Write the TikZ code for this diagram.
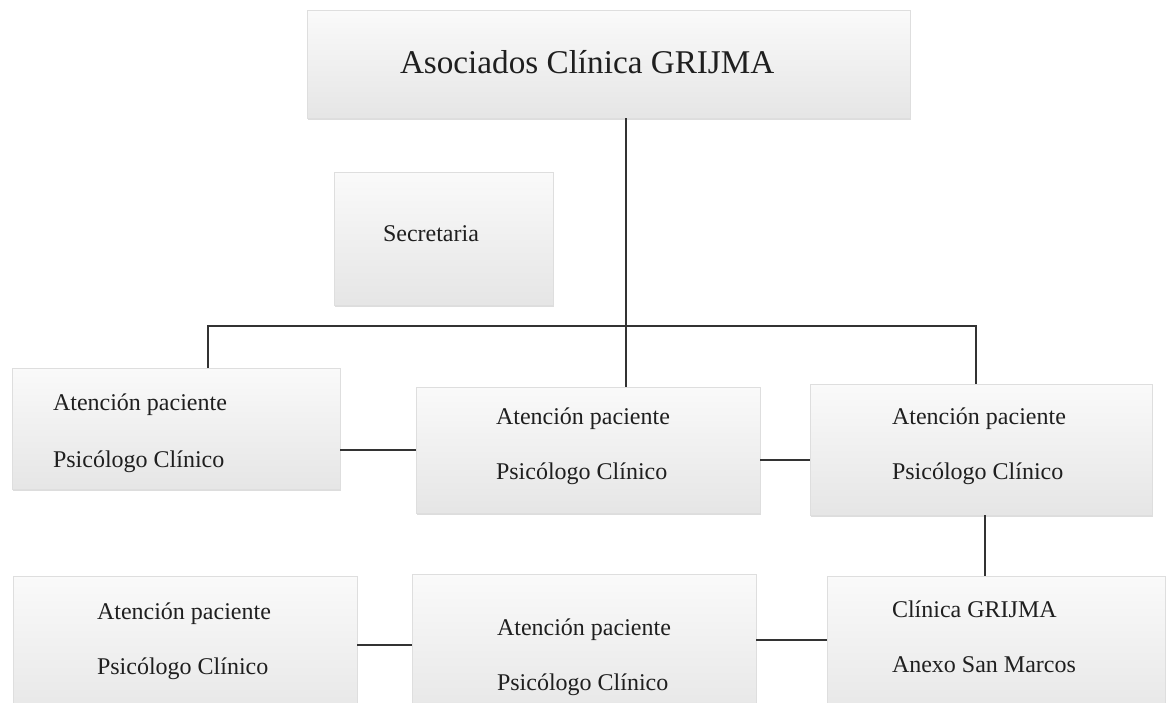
\documentclass[tikz,border=0pt]{standalone}
\usepackage{fontspec}
\setmainfont{Liberation Serif}
\usetikzlibrary{shadows}
\tikzset{
  box/.style={rectangle, inner sep=0pt, outer sep=0pt, draw=black!13, line width=0.6pt,
    top color=black!2, bottom color=black!10,
    drop shadow={shadow xshift=1.2pt, shadow yshift=-1.8pt, opacity=0.22, fill=black!60}},
  txt/.style={inner sep=0pt, outer sep=0pt, anchor=base west, font=\fontsize{24}{28}\selectfont, text=black!88},
  bigtxt/.style={txt, font=\fontsize{33.2}{38}\selectfont},
  conn/.style={line width=1.5pt, draw=black!80}
}
\begin{document}
\begin{tikzpicture}[x=1pt, y=-1pt]
\useasboundingbox (0,0) rectangle (1168,702);
\begin{scope}
\clip (0,0) rectangle (1168,702);
% boxes
\node[box, minimum width=603pt, minimum height=108pt, anchor=north west] (top) at (307,10) {};
\node[box, minimum width=219pt, minimum height=133pt, anchor=north west] (sec) at (334,172) {};
\node[box, minimum width=328pt, minimum height=121pt, anchor=north west] (lm) at (12,368) {};
\node[box, minimum width=344pt, minimum height=126pt, anchor=north west] (mm) at (416,387) {};
\node[box, minimum width=342pt, minimum height=131pt, anchor=north west] (rm) at (810,384) {};
\node[box, minimum width=344pt, minimum height=150pt, anchor=north west] (bl) at (13,576) {};
\node[box, minimum width=344pt, minimum height=150pt, anchor=north west] (bm) at (412,574) {};
\node[box, minimum width=338pt, minimum height=150pt, anchor=north west] (br) at (827,576) {};
% texts
\node[bigtxt] (ttop) at (400,73) {Asociados Clínica GRIJMA};
\node[txt] (tsec) at (383,241) {Secretaria};
\node[txt] (lm1) at (53,410) {Atención paciente};
\node[txt] (lm2) at (53,467) {Psicólogo Clínico};
\node[txt] (mm1) at (496,424) {Atención paciente};
\node[txt] (mm2) at (496,479) {Psicólogo Clínico};
\node[txt] (rm1) at (892,424) {Atención paciente};
\node[txt] (rm2) at (892,479) {Psicólogo Clínico};
\node[txt] (bl1) at (97,619) {Atención paciente};
\node[txt] (bl2) at (97,674) {Psicólogo Clínico};
\node[txt] (bm1) at (497,635) {Atención paciente};
\node[txt] (bm2) at (497,690) {Psicólogo Clínico};
\node[txt] (br1) at (892,617) {Clínica GRIJMA};
\node[txt] (br2) at (892,672) {Anexo San Marcos};
% connector reference coordinates
\coordinate (xc) at (626,0);
\coordinate (xd) at (985,0);
\coordinate (busl) at (208,326);
\coordinate (busr) at (976,326);
\coordinate (y1) at (0,450);
\coordinate (y2) at (0,460);
\coordinate (y3) at (0,645);
\coordinate (y4) at (0,640);
% connectors
\draw[conn] (top.south -| xc) -- (mm.north -| xc);
\draw[conn] (lm.north -| busl) -- (busl) -- (busr) -- (rm.north -| busr);
\draw[conn] (lm.east |- y1) -- (mm.west |- y1);
\draw[conn] (mm.east |- y2) -- (rm.west |- y2);
\draw[conn] (rm.south -| xd) -- (br.north -| xd);
\draw[conn] (bl.east |- y3) -- (bm.west |- y3);
\draw[conn] (bm.east |- y4) -- (br.west |- y4);
\end{scope}
\end{tikzpicture}
\end{document}
